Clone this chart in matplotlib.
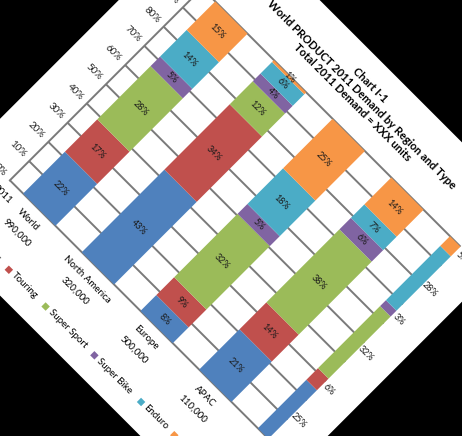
import matplotlib
matplotlib.use("Agg")
import matplotlib.pyplot as plt
from matplotlib.transforms import Affine2D
from matplotlib.patches import Rectangle
from matplotlib.path import Path
import numpy as np

# ---- data ----
regions = ["World", "North America", "Europe", "APAC", "Other"]
demand = ["990,000", "320,000", "500,000", "110,000", ""]
types = ["Cruiser", "Touring", "Super Sport", "Super Bike", "Enduro", "Other"]
colors = ["#4F81BD", "#C0504D", "#9BBB59", "#8064A2", "#4BACC6", "#F79646"]

cruiser = [22, 43, 8, 21, 25]
touring = [17, 34, 9, 14, 6]
super_sport = [28, 12, 32, 38, 32]
super_bike = [5, 4, 5, 6, 3]
enduro = [14, 6, 18, 7, 28]
other = [15, 1, 25, 14, 5]
series = [cruiser, touring, super_sport, super_bike, enduro, other]

pct_ticks = list(range(0, 101, 10))

title_lines = ["Chart I-1",
               "World PRODUCT 2011 Demand by Region and Type",
               "Total 2011 Demand = XXX units"]

# ---- layout (the whole chart page is turned 45 degrees) ----
W, H = 462, 436
C0, DC = 176, 83          # first category centre / spacing (px on the page)
V0, DV = -120.5, 2.717    # 0% position / px per percent
BAR_W = 0.55
X_LEFT, X_RIGHT = -0.5, 3.904   # plot area, category units

plt.rcParams['font.family'] = ['Lato', 'DejaVu Sans']

fig = plt.figure(figsize=(W / 100, H / 100), dpi=100, facecolor='black')
ax = fig.add_axes([0, 0, 1, 1])
ax.axis('off')

rot = Affine2D().rotate_deg(-45).translate(0, H) + ax.transData
chart = Affine2D().scale(DC, DV).translate(C0, V0) + rot
cat_tr = Affine2D().scale(DC, 1).translate(C0, 0) + rot
val_tr = Affine2D().scale(1, DV).translate(0, V0) + rot

# white page
ax.add_patch(Rectangle((84, -209), 456, 435, transform=rot,
                       fc='white', ec='none', zorder=0))

# gridlines + axis line
grid_c = '#7a7a7a'
ax.hlines(pct_ticks, X_LEFT, X_RIGHT, transform=chart, colors=grid_c,
          lw=1.4, zorder=1)
ax.plot([X_LEFT, X_LEFT], [0, 100], transform=chart, color=grid_c,
        lw=1.4, zorder=1)

# plot area clip (a path, so the rotation is kept)
clip = Path([(X_LEFT, -1), (X_RIGHT, -1), (X_RIGHT, 105), (X_LEFT, 105),
             (X_LEFT, -1)])

x = np.arange(len(regions))
vals = np.array(series, dtype=float)
norm = vals / vals.sum(axis=0) * 100
bottom = np.zeros(len(regions))
for k, name in enumerate(types):
    bars = ax.bar(x, norm[k], BAR_W, bottom=bottom, color=colors[k],
                  transform=chart, zorder=2, lw=0)
    for b in bars:
        b.set_clip_path(clip, chart)
    for i in range(len(regions)):
        ax.text(x[i], bottom[i] + norm[k][i] / 2, f"{series[k][i]}%",
                transform=chart, rotation=-45, rotation_mode='anchor',
                ha='center', va='center', fontsize=6.5, color='#1a1a1a',
                zorder=3)
    bottom += norm[k]

# value axis labels
for p in pct_ticks:
    ax.text(127, p, f"{p}%", transform=val_tr, rotation=-45,
            rotation_mode='anchor', ha='right', va='center', fontsize=7,
            color='#262626')

# category labels
ax.text(150, -136, "2011", transform=rot, rotation=-45,
        rotation_mode='anchor', ha='right', va='center', fontsize=7)
for i in range(len(regions)):
    ax.text(x[i], -135.5, regions[i], transform=cat_tr, rotation=-45,
            rotation_mode='anchor', ha='center', va='center', fontsize=7)
    ax.text(x[i], -153, demand[i], transform=cat_tr, rotation=-45,
            rotation_mode='anchor', ha='center', va='center', fontsize=7)

# legend
leg_c = [146, 197, 249, 318, 384, 431]
for k, name in enumerate(types):
    ax.add_patch(Rectangle((leg_c[k] - 3, -187.5), 6, 6, transform=rot,
                           fc=colors[k], ec='none', zorder=3))
    ax.text(leg_c[k] + 6, -184.5, name, transform=rot, rotation=-45,
            rotation_mode='anchor', ha='left', va='center', fontsize=7)

# title
for t, v in zip(title_lines, [201, 188.5, 176.5]):
    ax.text(322, v, t, transform=rot, rotation=-45, rotation_mode='anchor',
            ha='center', va='center', fontsize=8, fontweight='bold')

ax.set_xlim(0, W)
ax.set_ylim(0, H)
fig.savefig("out.png", dpi=100, facecolor='black')
